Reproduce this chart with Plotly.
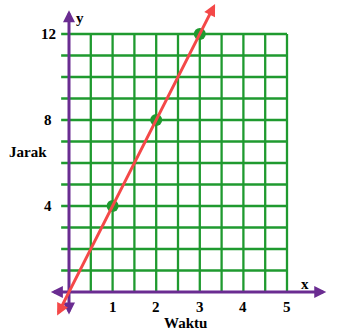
import plotly.graph_objects as go
import numpy as np

# Data
waktu = [1, 2, 3]          # x values (Waktu)
jarak = [4, 8, 12]         # y values (Jarak)
x_ticks = [1, 2, 3, 4, 5]
y_ticks = [4, 8, 12]
x_grid = [i * 0.5 for i in range(0, 11)]
y_grid = list(range(0, 13))

slope = np.polyfit(waktu, jarak, 1)[0]
line_x = [-0.29, 3.35]
line_y = [slope * v for v in line_x]

GREEN = "#1f9a2f"
PURPLE = "#6a2c91"
RED = "#f44848"
FONT = dict(family="Liberation Serif", size=15, color="black")

fig = go.Figure()

shapes = []
for gx in x_grid[1:]:
    shapes.append(dict(type="line", xref="x", yref="y", x0=gx, x1=gx, y0=0, y1=12,
                       line=dict(color=GREEN, width=2.3), layer="below"))
for gy in y_grid[1:]:
    shapes.append(dict(type="line", xref="x", yref="y", x0=-0.18, x1=5, y0=gy, y1=gy,
                       line=dict(color=GREEN, width=2.3), layer="below"))

fig.add_trace(go.Scatter(x=waktu, y=jarak, mode="markers",
                         marker=dict(color=GREEN, size=12), showlegend=False,
                         hoverinfo="skip"))

annotations = []
# axes arrows
annotations.append(dict(x=5.9, y=0, ax=-0.45, ay=0, xref="x", yref="y", axref="x", ayref="y",
                        text="", showarrow=True, arrowhead=2, arrowside="end+start",
                        arrowsize=0.8, arrowwidth=3, arrowcolor=PURPLE, standoff=0, startstandoff=0))
annotations.append(dict(x=0, y=13.1, ax=0, ay=-1.12, xref="x", yref="y", axref="x", ayref="y",
                        text="", showarrow=True, arrowhead=2, arrowside="end+start",
                        arrowsize=0.8, arrowwidth=3, arrowcolor=PURPLE, standoff=0, startstandoff=0))
# red line with arrows
annotations.append(dict(x=line_x[1], y=line_y[1], ax=line_x[0], ay=line_y[0],
                        xref="x", yref="y", axref="x", ayref="y",
                        text="", showarrow=True, arrowhead=2, arrowside="end+start",
                        arrowsize=0.8, arrowwidth=3, arrowcolor=RED, standoff=0, startstandoff=0))

for t in x_ticks:
    annotations.append(dict(x=t, y=-0.68, xref="x", yref="y", text=f"<b>{t}</b>",
                            showarrow=False, font=FONT))
for t in y_ticks:
    annotations.append(dict(x=-0.48, y=t, xref="x", yref="y", text=f"<b>{t}</b>",
                            showarrow=False, font=FONT))

annotations.append(dict(x=0.26, y=12.75, xref="x", yref="y", text="<b>y</b>",
                        showarrow=False, font=FONT))
annotations.append(dict(x=5.41, y=0.36, xref="x", yref="y", text="<b>x</b>",
                        showarrow=False, font=FONT))
annotations.append(dict(x=-0.95, y=6.5, xref="x", yref="y", text="<b>Jarak</b>",
                        showarrow=False, font=FONT))
annotations.append(dict(x=2.68, y=-1.45, xref="x", yref="y", text="<b>Waktu</b>",
                        showarrow=False, font=FONT))

fig.update_layout(
    width=344, height=335,
    margin=dict(l=0, r=0, t=0, b=0),
    paper_bgcolor="white", plot_bgcolor="white",
    font=FONT,
    xaxis=dict(range=[-69 / 43.6, (344 - 69) / 43.6], visible=False, fixedrange=True),
    yaxis=dict(range=[-(335 - 292) / 21.5, 292 / 21.5], visible=False, fixedrange=True),
    shapes=shapes,
    annotations=annotations,
)

fig.write_html("out.html")
